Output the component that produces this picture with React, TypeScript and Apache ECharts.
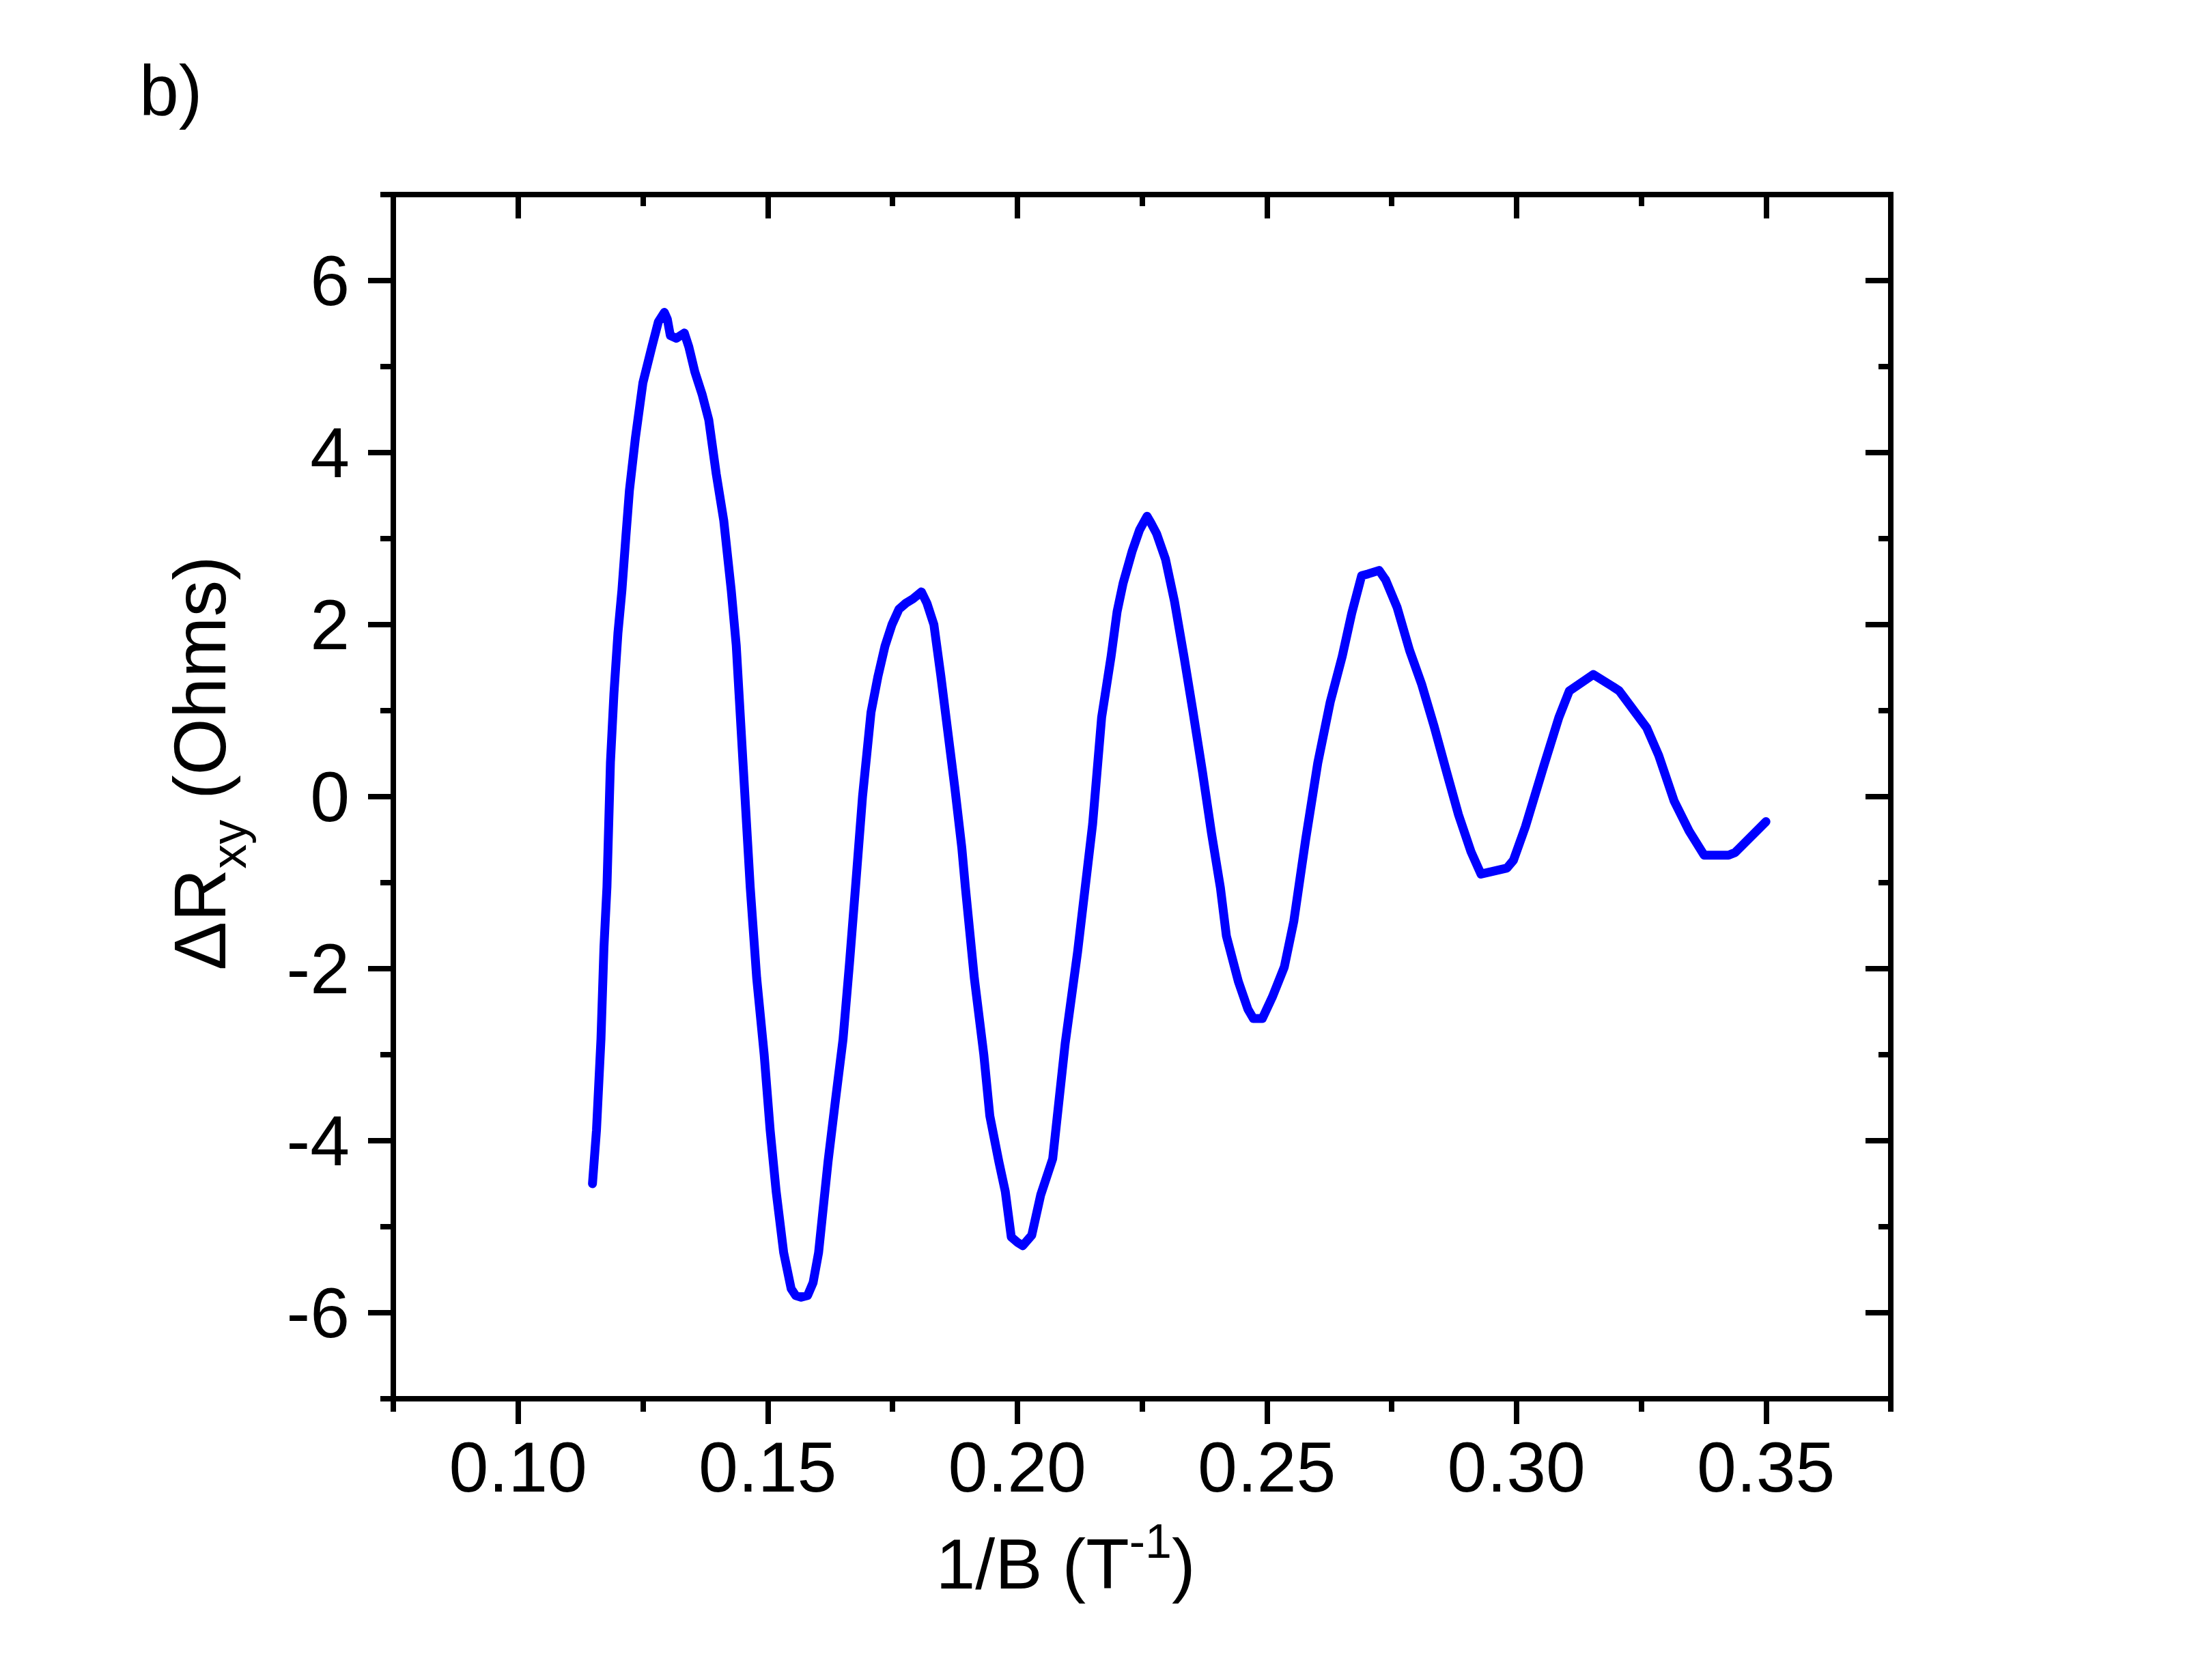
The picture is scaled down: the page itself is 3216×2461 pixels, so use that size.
import React, { useEffect, useRef } from "react";
import * as echarts from "echarts";

// ---- data (1/B in T^-1, ΔRxy in Ohms) ----
const xValues = [
  0.1149, 0.1157, 0.1166, 0.1172, 0.1178, 0.1185, 0.1192, 0.12, 0.1208, 0.1216,
  0.1223, 0.1235, 0.125, 0.1268, 0.1281, 0.1293, 0.1299, 0.1305, 0.1317, 0.1333,
  0.1342, 0.1354, 0.1369, 0.1382, 0.1397, 0.1412, 0.1427, 0.1437, 0.1451, 0.1465,
  0.1478, 0.1493, 0.1505, 0.1517, 0.1532, 0.1547, 0.1556, 0.1567, 0.158, 0.1591,
  0.1602, 0.1621, 0.1636, 0.1651, 0.1664, 0.1676, 0.169, 0.1707, 0.1721, 0.1735,
  0.1749, 0.1763, 0.1777, 0.1791, 0.1808, 0.1819, 0.1833, 0.1847, 0.1861, 0.1875,
  0.1889, 0.1896, 0.1914, 0.1933, 0.1945, 0.1963, 0.1976, 0.1988, 0.2, 0.2011,
  0.2029, 0.2047, 0.2071, 0.2096, 0.2121, 0.2151, 0.2169, 0.2188, 0.22, 0.2212,
  0.223, 0.2245, 0.226, 0.2268, 0.2279, 0.2297, 0.2315, 0.2334, 0.2352, 0.2371,
  0.2389, 0.2407, 0.2419, 0.2443, 0.2462, 0.2473, 0.2491, 0.2511, 0.2535, 0.2554,
  0.2578, 0.2602, 0.2627, 0.2651, 0.267, 0.269, 0.2703, 0.2725, 0.2738, 0.2761,
  0.2786, 0.281, 0.2835, 0.286, 0.2884, 0.2909, 0.2929, 0.2981, 0.2994, 0.3018,
  0.3055, 0.3085, 0.3106, 0.3154, 0.3193, 0.3206, 0.3261, 0.3285, 0.3316, 0.3346,
  0.3376, 0.3425, 0.3438, 0.35,
];
const yValues = [
  -4.5, -3.88, -2.82, -1.75, -1.05, 0.4, 1.2, 1.9, 2.4, 3.03,
  3.56, 4.17, 4.81, 5.23, 5.52, 5.63, 5.55, 5.36, 5.33, 5.39,
  5.23, 4.94, 4.67, 4.38, 3.75, 3.21, 2.4, 1.76, 0.35, -1.05,
  -2.11, -3.0, -3.88, -4.59, -5.3, -5.72, -5.8, -5.82, -5.8, -5.65,
  -5.3, -4.24, -3.52, -2.82, -1.93, -1.05, 0.0, 0.98, 1.4, 1.75,
  2.0, 2.18, 2.25, 2.3, 2.38, 2.25, 2.0, 1.4, 0.75, 0.1,
  -0.6, -1.05, -2.11, -3.0, -3.71, -4.24, -4.59, -5.12, -5.18, -5.22,
  -5.1, -4.63, -4.21, -2.87, -1.8, -0.32, 0.92, 1.63, 2.15, 2.48,
  2.85, 3.1, 3.26, 3.18, 3.06, 2.76, 2.27, 1.63, 0.99, 0.29,
  -0.42, -1.06, -1.62, -2.15, -2.47, -2.58, -2.58, -2.33, -1.98, -1.45,
  -0.49, 0.39, 1.1, 1.63, 2.13, 2.57, 2.59, 2.63, 2.52, 2.2,
  1.7, 1.31, 0.82, 0.29, -0.21, -0.64, -0.9, -0.83, -0.74, -0.35,
  0.36, 0.92, 1.23, 1.42, 1.28, 1.23, 0.8, 0.48, -0.05, -0.4,
  -0.68, -0.68, -0.65, -0.29,
];

// ---- axes ----
const xMin = 0.075;
const xMax = 0.375;
const yMin = -7;
const yMax = 7;
const xMajorTicks = [0.1, 0.15, 0.2, 0.25, 0.3, 0.35];
const xTickLabels = ["0.10", "0.15", "0.20", "0.25", "0.30", "0.35"];
const xMinorTicks = [0.075, 0.125, 0.175, 0.225, 0.275, 0.325, 0.375];
const yMajorTicks = [-6, -4, -2, 0, 2, 4, 6];
const yTickLabels = ["-6", "-4", "-2", "0", "2", "4", "6"];
const yMinorTicks = [-7, -5, -3, -1, 1, 3, 5, 7];

const FONT = "'Liberation Sans', Arial, sans-serif";
const BLACK = "#000000";
const LINE_W = 8;

function labelFor(ticks: number[], labels: string[], v: number): string {
  let best = 0;
  for (let i = 1; i < ticks.length; i++) {
    if (Math.abs(ticks[i] - v) < Math.abs(ticks[best] - v)) best = i;
  }
  return labels[best];
}

function tickAxis(
  kind: "x" | "y",
  position: string,
  ticks: number[],
  length: number,
  inside: boolean,
  showLine: boolean
): any {
  return {
    type: "value",
    position,
    min: kind === "x" ? xMin : yMin,
    max: kind === "x" ? xMax : yMax,
    axisLine: {
      show: showLine,
      onZero: false,
      lineStyle: { color: BLACK, width: LINE_W, cap: "square" },
    },
    axisTick: {
      show: true,
      inside,
      length,
      customValues: ticks,
      lineStyle: { color: BLACK, width: LINE_W },
    },
    axisLabel: { show: false },
    splitLine: { show: false },
    minorTick: { show: false },
  };
}

export default function App() {
  const ref = useRef<HTMLDivElement>(null);

  useEffect(() => {
    if (!ref.current) return;
    const chart = echarts.init(ref.current, undefined, { renderer: "svg" });
    const data = xValues.map((x, i) => [x, yValues[i]]);

    const xMain = tickAxis("x", "bottom", xMajorTicks, 37, false, true);
    xMain.axisLabel = {
      show: true,
      customValues: xMajorTicks,
      formatter: (v: number) => labelFor(xMajorTicks, xTickLabels, v),
      fontSize: 104,
      fontFamily: FONT,
      color: BLACK,
      margin: 48,
    };
    xMain.name = "{a|1/B (T}{s|-1}{a|)}";
    xMain.nameLocation = "middle";
    xMain.nameGap = 174;
    xMain.nameTextStyle = {
      padding: [0, 224, 0, 0],
      rich: {
        a: { fontSize: 104, fontFamily: FONT, color: BLACK },
        s: { fontSize: 70, fontFamily: FONT, color: BLACK, padding: [0, 0, 66, 0] },
      },
    };

    const yMain = tickAxis("y", "left", yMajorTicks, 37, false, true);
    yMain.axisLabel = {
      show: true,
      customValues: yMajorTicks,
      formatter: (v: number) => labelFor(yMajorTicks, yTickLabels, v),
      fontSize: 104,
      fontFamily: FONT,
      color: BLACK,
      margin: 64,
    };
    yMain.name = "{a|ΔR}{b|xy}{a| (Ohms)}";
    yMain.nameLocation = "middle";
    yMain.nameRotate = 90;
    yMain.nameGap = 205;
    yMain.nameTextStyle = {
      padding: [0, 0, 0, 98],
      rich: {
        a: { fontSize: 107, fontFamily: FONT, color: BLACK },
        b: { fontSize: 72, fontFamily: FONT, color: BLACK, padding: [84, 0, 0, 0] },
      },
    };

    chart.setOption({
      animation: false,
      backgroundColor: "#ffffff",
      textStyle: { fontFamily: FONT },
      grid: { left: 576, right: 447, top: 285, bottom: 412, containLabel: false },
      xAxis: [
        xMain,
        tickAxis("x", "bottom", xMinorTicks, 19, false, false),
        tickAxis("x", "top", xMajorTicks, 35, true, true),
        tickAxis("x", "top", xMinorTicks, 17, true, false),
      ],
      yAxis: [
        yMain,
        tickAxis("y", "left", yMinorTicks, 19, false, false),
        tickAxis("y", "right", yMajorTicks, 37, true, true),
        tickAxis("y", "right", yMinorTicks, 18, true, false),
      ],
      graphic: [
        {
          type: "text",
          left: 204,
          top: 80,
          style: {
            text: "b)",
            fontSize: 104,
            fontFamily: FONT,
            fill: BLACK,
          },
        },
      ],
      series: [
        {
          type: "line",
          xAxisIndex: 0,
          yAxisIndex: 0,
          data,
          showSymbol: false,
          symbol: "none",
          smooth: false,
          lineStyle: { color: "#0000FF", width: 13, join: "round", cap: "round" },
          itemStyle: { color: "#0000FF" },
        },
      ],
    });

    return () => chart.dispose();
  }, []);

  return (
    <div
      ref={ref}
      style={{ position: "absolute", left: 0, top: 0, width: 3216, height: 2461, background: "#fff" }}
    />
  );
}
